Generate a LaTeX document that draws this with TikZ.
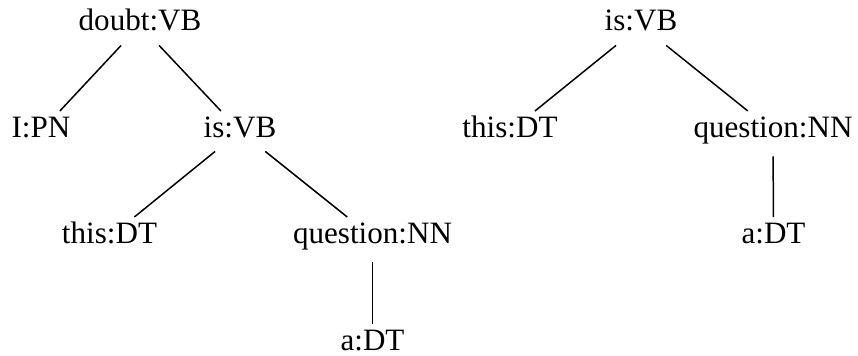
\documentclass[tikz,border=0pt]{standalone}
\usepackage{fontspec}
\setmainfont{Liberation Serif}
\begin{document}
\begin{tikzpicture}[x=0.02cm,y=-0.02cm,
  word/.style={anchor=base, font=\fontsize{17.7}{21}\selectfont,
    text height=0.66em, text depth=0pt, inner xsep=8pt, inner ysep=8pt},
  arc/.style={line width=0.85pt},
  down/.style={arc, shorten <=0.1cm}]
\useasboundingbox (0,0) rectangle (858,355);
% first tree
\node[word] (doubt) at (140,31)  {doubt:VB};
\node[word] (ipn)   at (41,137)  {I:PN};
\node[word] (isA)   at (240,137) {is:VB};
\node[word] (thisA) at (109.5,243) {this:DT};
\node[word] (qA)    at (372.5,243) {question:NN};
\node[word] (aA)    at (372.5,350) {a:DT};
\draw[arc] (doubt) -- (ipn);
\draw[arc] (doubt) -- (isA);
\draw[arc] (isA) -- (thisA);
\draw[arc] (isA) -- (qA);
\draw[down] (qA) -- (aA);
% second tree
\node[word] (isB)   at (641,31)  {is:VB};
\node[word] (thisB) at (510,137) {this:DT};
\node[word] (qB)    at (773,137) {question:NN};
\node[word] (aB)    at (773.5,243) {a:DT};
\draw[arc] (isB) -- (thisB);
\draw[arc] (isB) -- (qB);
\draw[down] (qB) -- (aB);
\end{tikzpicture}
\end{document}
